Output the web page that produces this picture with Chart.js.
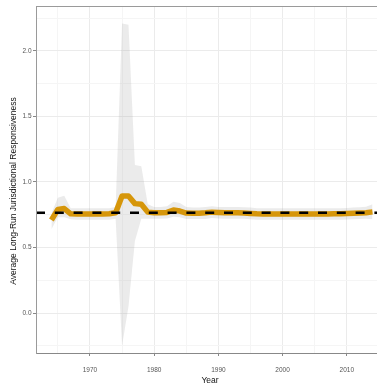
<!DOCTYPE html>
<html>
<head>
<meta charset="utf-8">
<script src="https://cdn.jsdelivr.net/npm/chart.js@4.4.1/dist/chart.umd.min.js"></script>
<style>
  html, body { margin: 0; padding: 0; background: #fff; }
  #wrap { width: 377px; height: 389px; position: relative; }
</style>
</head>
<body>
<div id="wrap"><canvas id="chart"></canvas></div>
<script>
const years = [1964, 1965, 1966, 1967, 1968, 1969, 1970, 1971, 1972, 1973,
  1974, 1975, 1976, 1977, 1978, 1979, 1980, 1981, 1982, 1983,
  1984, 1985, 1986, 1987, 1988, 1989, 1990, 1991, 1992, 1993,
  1994, 1995, 1996, 1997, 1998, 1999, 2000, 2001, 2002, 2003,
  2004, 2005, 2006, 2007, 2008, 2009, 2010, 2011, 2012, 2013, 2014];

const responsiveness = [0.71, 0.79, 0.797, 0.757, 0.755, 0.755, 0.755, 0.755, 0.755, 0.757,
  0.765, 0.893, 0.893, 0.835, 0.83, 0.77, 0.765, 0.765, 0.768, 0.786,
  0.778, 0.763, 0.762, 0.762, 0.765, 0.77, 0.768, 0.766, 0.765, 0.765,
  0.764, 0.76, 0.757, 0.756, 0.756, 0.756, 0.755, 0.755, 0.755, 0.755,
  0.755, 0.756, 0.756, 0.756, 0.757, 0.758, 0.759, 0.761, 0.763, 0.766, 0.772];

const upperBound = [0.76, 0.88, 0.895, 0.80, 0.80, 0.80, 0.80, 0.80, 0.80, 0.80,
  0.81, 2.21, 2.20, 1.13, 1.12, 0.83, 0.81, 0.81, 0.815, 0.85,
  0.84, 0.81, 0.805, 0.805, 0.81, 0.815, 0.81, 0.81, 0.81, 0.81,
  0.808, 0.805, 0.80, 0.80, 0.80, 0.80, 0.80, 0.80, 0.80, 0.80,
  0.80, 0.80, 0.80, 0.80, 0.80, 0.80, 0.802, 0.805, 0.808, 0.812, 0.83];

const lowerBound = [0.64, 0.73, 0.73, 0.715, 0.712, 0.712, 0.712, 0.712, 0.712, 0.712,
  0.72, -0.25, 0.05, 0.55, 0.72, 0.72, 0.72, 0.72, 0.722, 0.735,
  0.73, 0.718, 0.718, 0.718, 0.718, 0.725, 0.722, 0.72, 0.72, 0.72,
  0.72, 0.716, 0.712, 0.712, 0.712, 0.712, 0.712, 0.712, 0.712, 0.712,
  0.712, 0.712, 0.712, 0.712, 0.712, 0.712, 0.714, 0.716, 0.718, 0.72, 0.715];

const overallMean = 0.765;

const xTicks = [1965, 1970, 1975, 1980, 1985, 1990, 1995, 2000, 2005, 2010];
const xLabels = { 1970: '1970', 1980: '1980', 1990: '1990', 2000: '2000', 2010: '2010' };
const yTicks = [-0.25, 0, 0.25, 0.5, 0.75, 1, 1.25, 1.5, 1.75, 2, 2.25];
const yLabels = { '0': '0.0', '0.5': '0.5', '1': '1.0', '1.5': '1.5', '2': '2.0' };

const xMin = 1961.6, xMax = 2014.7;
const yMin = -0.305, yMax = 2.343;

const FONT = "'Liberation Sans', Arial, sans-serif";

function pts(vals) {
  return years.map((y, i) => ({ x: y, y: vals[i] }));
}

// panel border (top + left) and axis titles placed like the ggplot original
const decor = {
  id: 'decor',
  afterDraw(chart) {
    const ctx = chart.ctx;
    const a = chart.chartArea;
    ctx.save();
    ctx.strokeStyle = '#9a9a9a';
    ctx.lineWidth = 1;
    ctx.beginPath();
    ctx.moveTo(a.left + 0.5, a.bottom);
    ctx.lineTo(a.left + 0.5, a.top + 0.5);
    ctx.lineTo(a.right, a.top + 0.5);
    ctx.stroke();

    ctx.fillStyle = '#111';
    ctx.font = '8.5px ' + FONT;
    ctx.textAlign = 'center';
    ctx.textBaseline = 'middle';
    ctx.fillText('Year', 210, 381);
    ctx.translate(14, 191);
    ctx.rotate(-Math.PI / 2);
    ctx.fillText('Average Long-Run Jurisdictional Responsiveness', 0, 0);
    ctx.restore();
  }
};

const isMajorX = v => xLabels[v] !== undefined;
const isMajorY = v => yLabels[String(v)] !== undefined;

new Chart(document.getElementById('chart'), {
  type: 'line',
  data: {
    datasets: [
      {
        data: [{ x: xMin, y: overallMean }, { x: xMax, y: overallMean }],
        borderColor: '#000',
        borderWidth: 2.5,
        borderDash: [9, 9.8],
        pointRadius: 0,
        fill: false,
        order: 0
      },
      {
        data: pts(responsiveness),
        borderColor: '#d6960a',
        borderWidth: 5.5,
        borderCapStyle: 'butt',
        borderJoinStyle: 'round',
        pointRadius: 0,
        fill: false,
        order: 1
      },
      {
        data: pts(upperBound),
        borderColor: 'rgba(0,0,0,0)',
        borderWidth: 0,
        backgroundColor: 'rgba(153,153,153,0.2)',
        pointRadius: 0,
        fill: '+1',
        order: 2
      },
      {
        data: pts(lowerBound),
        borderColor: 'rgba(0,0,0,0)',
        borderWidth: 0,
        pointRadius: 0,
        fill: false,
        order: 3
      }
    ]
  },
  options: {
    responsive: true,
    maintainAspectRatio: false,
    animation: false,
    layout: { padding: { top: 6, right: 0, left: 0, bottom: 0 } },
    plugins: {
      legend: { display: false },
      tooltip: { enabled: false },
      filler: { propagate: false }
    },
    scales: {
      x: {
        type: 'linear',
        min: xMin,
        max: xMax,
        afterBuildTicks: scale => { scale.ticks = xTicks.map(v => ({ value: v })); },
        afterFit: scale => { scale.height = 36; },
        grid: {
          color: c => isMajorX(c.tick.value) ? '#ebebeb' : '#f5f5f5',
          tickColor: c => isMajorX(c.tick.value) ? '#888' : 'rgba(0,0,0,0)',
          tickLength: 3,
          drawOnChartArea: true
        },
        border: { color: '#888', width: 1 },
        ticks: {
          autoSkip: false,
          maxRotation: 0,
          padding: 10,
          color: '#555',
          font: { family: FONT, size: 6.5 },
          callback: v => xLabels[v] || ''
        }
      },
      y: {
        type: 'linear',
        min: yMin,
        max: yMax,
        afterBuildTicks: scale => { scale.ticks = yTicks.map(v => ({ value: v })); },
        afterFit: scale => { scale.width = 36; },
        grid: {
          color: c => isMajorY(c.tick.value) ? '#ebebeb' : '#f5f5f5',
          tickColor: c => isMajorY(c.tick.value) ? '#888' : 'rgba(0,0,0,0)',
          tickLength: 3
        },
        border: { color: '#9a9a9a', width: 1 },
        ticks: {
          autoSkip: false,
          padding: 1.5,
          color: '#555',
          font: { family: FONT, size: 6.5 },
          callback: v => yLabels[String(v)] || ''
        }
      }
    }
  },
  plugins: [decor]
});
</script>
</body>
</html>
